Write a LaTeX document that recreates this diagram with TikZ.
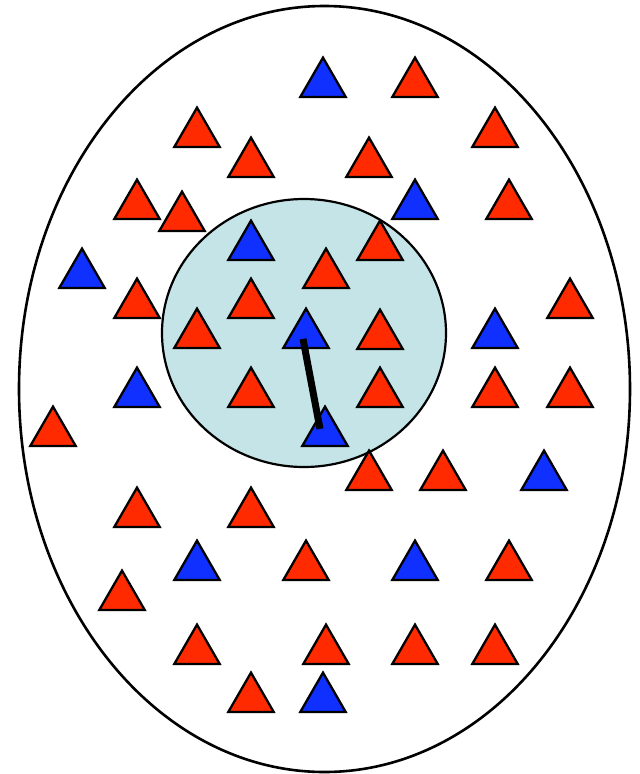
\documentclass[tikz,border=0pt]{standalone}
\usepackage{tikz}
\usetikzlibrary{shapes.geometric}

\definecolor{trired}{RGB}{255,42,0}
\definecolor{triblue}{RGB}{16,48,255}
\definecolor{nbfill}{RGB}{196,228,232}

\begin{document}
\begin{tikzpicture}[x=1pt,y=-1pt]
  \tikzset{tri/.style={regular polygon,regular polygon sides=3,draw=black,line width=2.3pt,
      minimum size=52.5pt,inner sep=0pt,outer sep=0pt,anchor=side 2}}
  \tikzset{redtri/.style={tri,fill=trired}}
  \tikzset{bluetri/.style={tri,fill=triblue}}
  \tikzset{stick/.style={line width=7pt,black}}
  \useasboundingbox (0,0) rectangle (640,774);

  % Population and neighbourhood
  \draw[line width=2.6pt,fill=white] (324.5,389) ellipse [x radius=305.5,y radius=383];
  \draw[line width=2.2pt,fill=nbfill] (304,333) ellipse [x radius=142,y radius=134];

  % Red points (apex x / base y)
  \foreach \px/\py [count=\i] in {415/97,197/147,495/147,251/177,369/177,137/219,182/231,509/219,
      380/260,326/288,137/318,251/318,570/318,197/348,380/349,251/407,380/407,495/407,570/407,
      53/446,369/490,443/490,137/527,251/527,306/580,509/580,122/610,197/664,326/664,415/664,
      495/664,251/712}
    \node[redtri] (r\i) at (\px,\py) {};

  % Blue points
  \foreach \px/\py [count=\i] in {323/97,415/219,251/260,82/288,306/348,495/348,137/407,
      325/446,544/490,197/580,415/580,323/712}
    \node[bluetri] (b\i) at (\px,\py) {};

  % Distance to nearest neighbour
  \draw[stick] ([shift={(-3,4)}]b5.center) -- ([shift={(-5,-4)}]b8.center);
\end{tikzpicture}
\end{document}
